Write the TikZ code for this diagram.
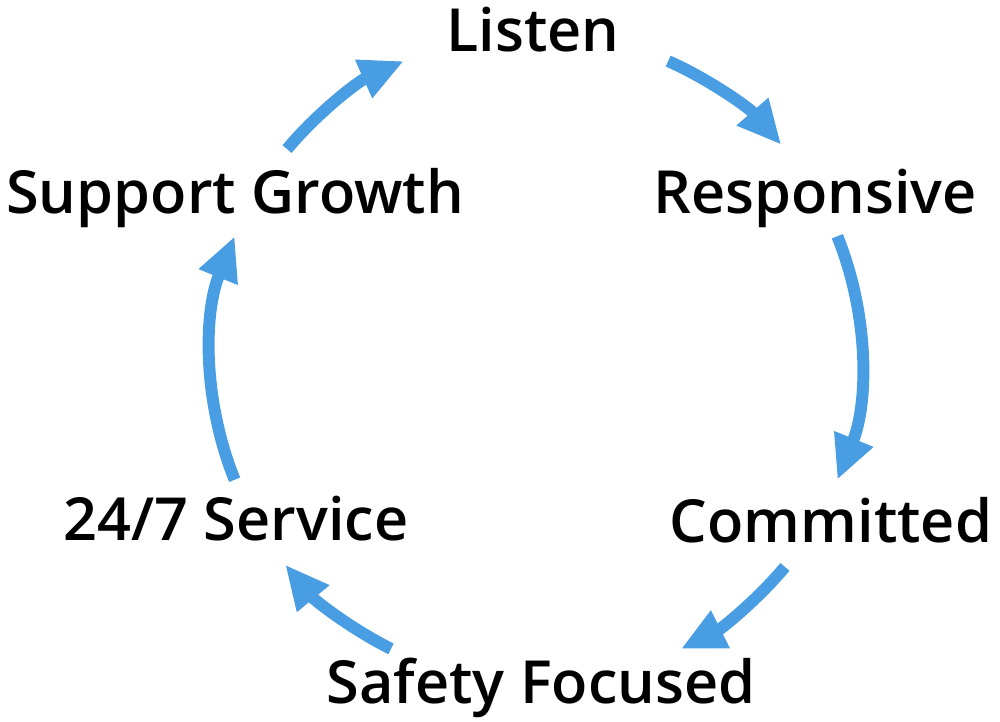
\documentclass[tikz,border=0pt]{standalone}
\usepackage{fontspec}
\setmainfont{Open Sans}[BoldFont={Open Sans Semibold}]
\usetikzlibrary{arrows.meta}
\definecolor{cycleblue}{RGB}{72,157,227}

\begin{document}
\begin{tikzpicture}[
    x=0.01cm, y=0.01cm,
    step label/.style={anchor=base, inner sep=0pt, font=\fontsize{16.9}{19}\selectfont\bfseries},
    flow/.style={cycleblue, line width=3.4pt, -{Triangle[length=0.44cm, width=0.39cm]}}
]
    \useasboundingbox (-536,-363) rectangle (464,358);
    \coordinate (c) at (0,0);

    % Etapes du cycle
    \node[step label] (listen) at (-3, 306) {Listen};
    \node[step label] (resp) at (279, 145) {Responsive};
    \node[step label] (comm) at (295, -184) {Committed};
    \node[step label] (safety) at (5, -345) {Safety Focused};
    \node[step label] (service) at (-300, -182) {24/7 Service};
    \node[step label] (growth) at (-301, 145) {Support Growth};

    % Fleches entre les etapes
    \foreach \from/\to in {66/41, 22/-22, -40/-63.5, 243.5/219.5, 202/158, 140/114} {
        \draw[flow] ([shift={(\from:325)}]c) arc[start angle=\from, end angle=\to, radius=325];
    }
\end{tikzpicture}
\end{document}
